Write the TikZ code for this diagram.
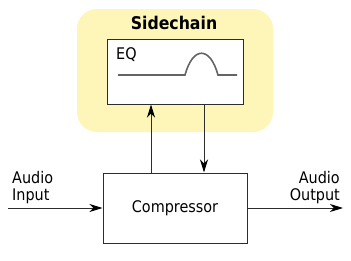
\documentclass[tikz,border=0pt]{standalone}
\usepackage{fontspec}
\setmainfont{DejaVu Sans Condensed}
\usetikzlibrary{arrows.meta}
\definecolor{sideyellow}{RGB}{253,246,184}
\definecolor{boxline}{RGB}{45,45,45}
\definecolor{curvegray}{RGB}{100,100,100}
\tikzset{
  blockbox/.style={draw=boxline, line width=1pt, fill=white, inner sep=0pt},
  sig/.style={draw=boxline, line width=1pt, -{Stealth[length=13pt,width=8pt,inset=4pt,color=black]}},
  lbl/.style={font=\fontsize{16}{17.5}\selectfont, inner sep=0pt, align=left},
}
\begin{document}
\begin{tikzpicture}[x=1pt,y=-1pt]
\useasboundingbox (0,0) rectangle (351,260);
\node[fill=sideyellow, rounded corners=20pt, minimum width=196pt, minimum height=123pt, inner sep=0pt] (side) at (175,70.5) {};
\node[font=\bfseries\fontsize{17.5}{18}\selectfont, inner sep=0pt] (sidet) at (174,23) {Sidechain};
\node[blockbox, minimum width=136pt, minimum height=65pt] (eq) at (175,71.5) {};
\node[lbl, anchor=west] (eqt) at (116,55) {EQ};
\draw[curvegray, line width=1.6pt] (118,75) -- (185,75) .. controls (193,46) and (210,46) .. (218,75) -- (237,75);
\node[blockbox, minimum width=144pt, minimum height=70pt, font=\fontsize{16}{17}\selectfont] (comp) at (175,208) {Compressor};
\coordinate (lx) at (151,0);
\coordinate (rx) at (204,0);
\coordinate (in) at (8,208);
\coordinate (out) at (343,208);
\draw[sig] (comp.north -| lx) -- (eq.south -| lx);
\draw[sig] (eq.south -| rx) -- (comp.north -| rx);
\draw[sig] (in) -- (comp.west);
\draw[sig] (comp.east) -- (out);
\node[lbl, anchor=north west] (inl) at (12,171) {Audio\\Input};
\node[lbl, anchor=north east, align=right] (outl) at (340,171) {Audio\\Output};
\end{tikzpicture}
\end{document}
